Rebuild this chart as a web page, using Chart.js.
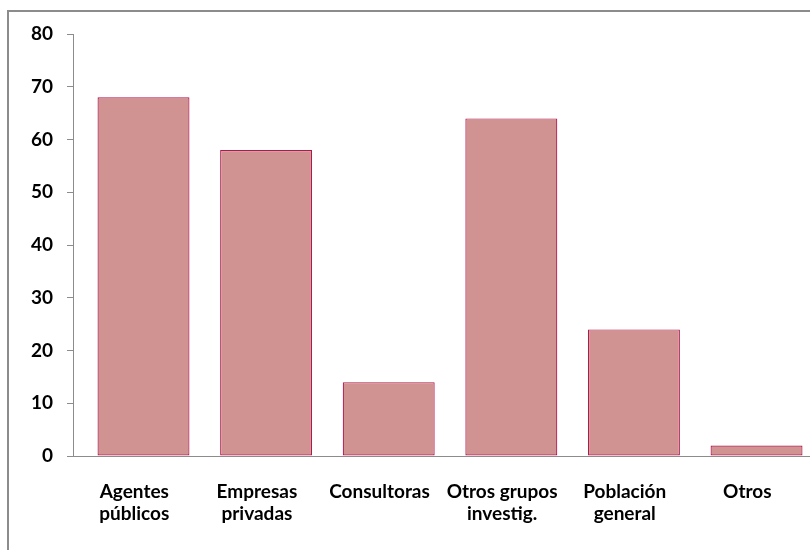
<!DOCTYPE html>
<html>
<head>
<meta charset="utf-8">
<script src="https://cdn.jsdelivr.net/npm/chart.js@4.4.1/dist/chart.umd.min.js"></script>
<style>
  html, body { margin: 0; padding: 0; background: #fff; overflow: hidden; }
  #wrap { position: relative; width: 810px; height: 550px; overflow: hidden; }
  #frame { position: absolute; left: 7px; top: 10px; width: 900px; height: 700px; border: 2px solid #8c8c8c; box-sizing: border-box; }
  canvas { position: absolute; left: 0; top: 0; }
</style>
</head>
<body>
<div id="wrap">
  <div id="frame"></div>
  <canvas id="c" width="810" height="550"></canvas>
</div>
<script>
const categories = [
  ['Agentes', 'públicos'],
  ['Empresas', 'privadas'],
  ['Consultoras'],
  ['Otros grupos', 'investig.'],
  ['Población', 'general'],
  ['Otros']
];
const values = [68, 58, 14, 64, 24, 2];
const yTicks = [0, 10, 20, 30, 40, 50, 60, 70, 80];

const font = { family: 'Lato', weight: 'bold', size: 19, lineHeight: 1.2 };

new Chart(document.getElementById('c'), {
  type: 'bar',
  data: {
    datasets: [{
      data: values.map((v, i) => ({ x: i, y: v })),
      backgroundColor: '#D19292',
      borderColor: '#B3184C',
      borderWidth: 1.2,
      borderSkipped: false,
      barPercentage: 0.75,
      categoryPercentage: 1
    }]
  },
  options: {
    responsive: false,
    animation: false,
    devicePixelRatio: 1,
    layout: { padding: { top: 34, left: 0, right: 0, bottom: 0 } },
    plugins: { legend: { display: false }, tooltip: { enabled: false } },
    scales: {
      x: {
        type: 'linear',
        offset: false,
        min: -0.575,
        max: 5.436,
        afterBuildTicks: (s) => { s.ticks = categories.map((c, i) => ({ value: i - 0.075 })); },
        afterFit: (s) => { s.height = 94; },
        grid: { display: false },
        border: { display: true, color: '#8c8c8c', width: 1 },
        ticks: {
          autoSkip: false,
          maxRotation: 0,
          padding: 16,
          color: '#000',
          font: font,
          callback: (v, i) => categories[i] || ''
        }
      },
      y: {
        min: 0,
        max: 80,
        afterBuildTicks: (s) => { s.ticks = yTicks.map(v => ({ value: v })); },
        afterFit: (s) => { s.width = 73; },
        grid: { display: true, drawOnChartArea: false, drawTicks: true, tickLength: 6, color: '#8c8c8c' },
        border: { display: true, color: '#8c8c8c', width: 1 },
        ticks: { padding: 14, color: '#000', font: font }
      }
    }
  }
});
</script>
</body>
</html>
